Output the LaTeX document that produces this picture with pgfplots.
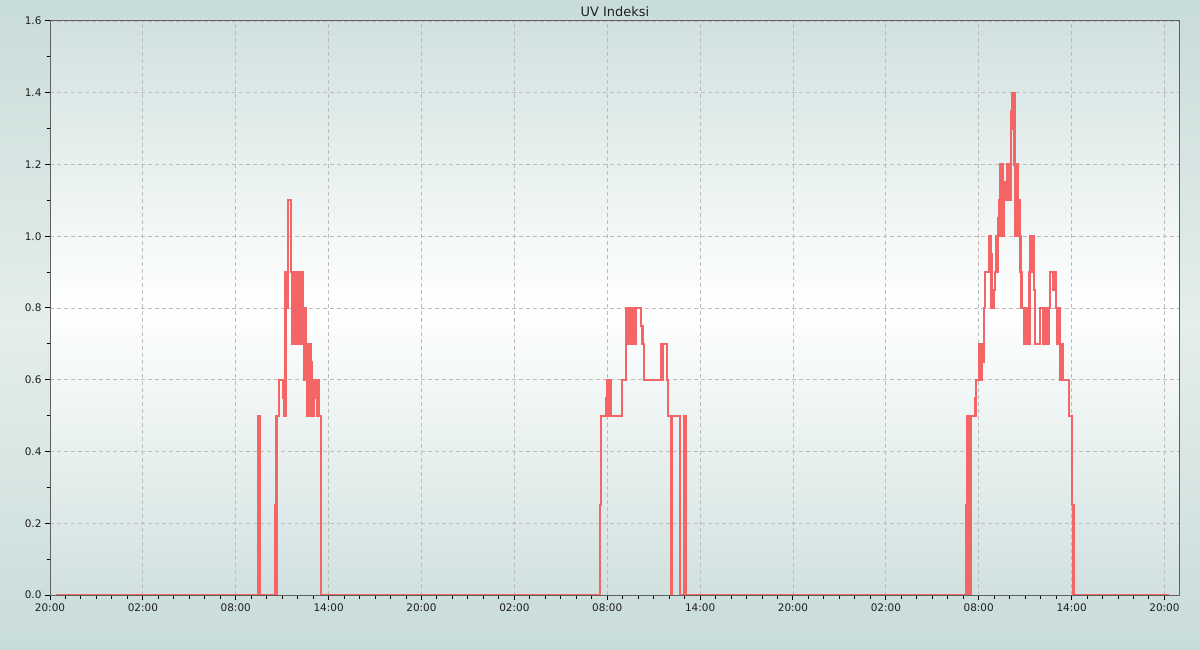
\documentclass[border=0pt]{standalone}
\usepackage{pgfplots}
\pgfplotsset{compat=1.18}
\usepackage{fontspec}
\setmainfont{DejaVu Sans}

\definecolor{uvline}{RGB}{244,101,101}
\definecolor{bgedge}{RGB}{200,220,217}
\definecolor{bgmid}{RGB}{228,238,236}
\definecolor{plotedge}{RGB}{208,225,223}
\definecolor{gridc}{RGB}{188,188,188}
\definecolor{axisc}{RGB}{95,95,95}
\definecolor{textc}{RGB}{30,30,30}

% hours since 20:00 of day 1, UV index
\pgfplotstableread{
h v
0.39 0
13.47 0.5
13.55 0
14.52 0.25
14.58 0.5
14.64 0
14.68 0.5
14.78 0.6
15.08 0.55
15.15 0.5
15.21 0.9
15.25 0.8
15.29 0.9
15.33 0.8
15.36 1.0
15.40 1.1
15.58 0.9
15.63 0.7
15.68 0.9
15.73 0.7
15.78 0.9
15.83 0.7
15.88 0.9
15.93 0.7
15.98 0.9
16.03 0.7
16.08 0.9
16.13 0.7
16.18 0.9
16.23 0.7
16.28 0.9
16.33 0.7
16.38 0.8
16.43 0.6
16.48 0.8
16.53 0.6
16.58 0.7
16.63 0.5
16.68 0.7
16.73 0.5
16.78 0.7
16.84 0.65
16.90 0.5
16.96 0.6
17.02 0.5
17.08 0.6
17.14 0.55
17.20 0.6
17.28 0.5
17.34 0.6
17.40 0.5
17.50 0
35.52 0.25
35.58 0.5
35.94 0.55
35.99 0.6
36.04 0.5
36.09 0.6
36.14 0.5
36.19 0.6
36.25 0.5
36.95 0.6
37.21 0.7
37.25 0.8
37.30 0.7
37.34 0.8
37.40 0.7
37.44 0.8
37.50 0.7
37.64 0.8
37.70 0.7
37.74 0.8
37.84 0.7
37.88 0.8
38.16 0.75
38.28 0.7
38.40 0.6
39.46 0.7
39.53 0.6
39.60 0.7
39.84 0.6
39.94 0.5
40.12 0
40.17 0.5
40.72 0
40.96 0.5
41.06 0.25
41.11 0
59.20 0.25
59.25 0.5
59.30 0
59.34 0.5
59.38 0
59.43 0.5
59.47 0
59.52 0.5
59.79 0.55
59.85 0.6
60.01 0.7
60.06 0.6
60.11 0.7
60.16 0.6
60.21 0.7
60.26 0.65
60.33 0.8
60.42 0.9
60.70 1.0
60.78 0.95
60.83 0.8
60.88 0.85
60.93 0.8
60.98 0.85
61.04 0.9
61.15 1.0
61.20 0.9
61.25 1.05
61.30 1.1
61.35 1.0
61.40 1.2
61.45 1.0
61.50 1.2
61.55 1.0
61.60 1.1
61.64 1.15
61.69 1.1
61.74 1.15
61.79 1.1
61.84 1.2
61.89 1.1
61.94 1.2
61.99 1.1
62.06 1.3
62.12 1.35
62.17 1.4
62.31 1.2
62.36 1.0
62.41 1.1
62.46 1.0
62.51 1.2
62.56 1.0
62.61 1.1
62.66 1.0
62.70 0.9
62.77 0.8
62.92 0.7
62.97 0.8
63.02 0.7
63.07 0.8
63.12 0.7
63.17 0.8
63.22 0.7
63.28 0.9
63.35 1.0
63.40 0.9
63.45 1.0
63.56 0.85
63.62 0.7
63.95 0.8
64.17 0.7
64.22 0.8
64.27 0.7
64.32 0.8
64.49 0.7
64.54 0.8
64.62 0.9
64.79 0.85
64.90 0.9
65.00 0.8
65.05 0.7
65.10 0.8
65.15 0.7
65.20 0.8
65.27 0.6
65.32 0.7
65.37 0.6
65.42 0.7
65.47 0.6
65.82 0.5
66.05 0.25
66.12 0
72.27 0
}\uvdata

\begin{document}
\begin{tikzpicture}
\useasboundingbox (0,0) rectangle (1200bp,650bp);
\shade[top color=bgedge, bottom color=bgedge, middle color=bgmid] (0,0) rectangle (1200bp,650bp);
\begin{axis}[
  at={(50bp,55bp)}, anchor=south west,
  scale only axis, width=1130bp, height=574bp,
  xmin=0, xmax=73, ymin=0, ymax=1.6,
  axis background/.style={shade, top color=plotedge, bottom color=plotedge, middle color=white},
  axis line style={axisc, line width=1bp},
  xtick={0,6,...,72},
  xticklabels={20:00,02:00,08:00,14:00,20:00,02:00,08:00,14:00,20:00,02:00,08:00,14:00,20:00},
  minor x tick num=5,
  ytick={0,0.2,...,1.6},
  minor y tick num=1,
  xtick pos=bottom, ytick pos=left,
  tick align=outside,
  major tick length=5bp, minor tick length=3.5bp,
  every tick/.style={black, line width=1bp},
  grid=major,
  major grid style={gridc, line width=0.8bp, dash pattern=on 4bp off 3bp},
  ticklabel style={font=\fontsize{10.5}{12}\selectfont, text=textc},
  /pgf/number format/assume math mode=true,
  yticklabel style={/pgf/number format/.cd, fixed, fixed zerofill, precision=1},
  title={UV Indeksi},
  title style={at={(0.5,1)}, anchor=base, yshift=-1bp, font=\fontsize{13}{15}\selectfont, text=textc},
]
\addplot[const plot, uvline, line width=2.2bp] table[x=h, y=v] {\uvdata};
\end{axis}
\end{tikzpicture}
\end{document}
